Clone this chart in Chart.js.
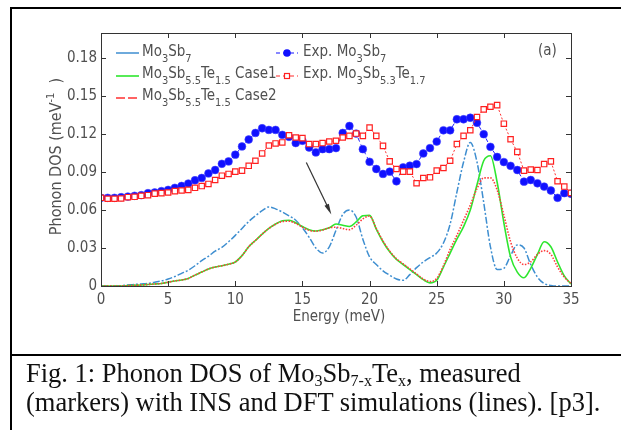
<!DOCTYPE html>
<html>
<head>
<meta charset="utf-8">
<script src="https://cdn.jsdelivr.net/npm/chart.js@4.4.1/dist/chart.umd.min.js"></script>
<style>
html, body { margin: 0; padding: 0; background: #fff; }
#wrap { position: relative; width: 621px; height: 430px; overflow: hidden; }
.rule { position: absolute; background: #000; }
#chart { position: absolute; left: 0; top: 0; }
#caption {
    position: absolute; left: 26px; top: 359px;
    font-family: 'Liberation Serif', 'Times New Roman', serif;
    font-size: 26.5px; line-height: 29px; color: #111; white-space: nowrap;
}
#caption sub { font-size: 16px; vertical-align: -4px; line-height: 0; }
</style>
</head>
<body>
<div id="wrap">
    <div class="rule" style="left:10px;top:7px;width:620px;height:2px"></div>
    <div class="rule" style="left:10px;top:7px;width:2px;height:430px"></div>
    <div class="rule" style="left:10px;top:354px;width:620px;height:2px"></div>
    <canvas id="chart" width="621" height="430"></canvas>
    <div id="caption">Fig. 1: Phonon DOS of Mo<sub>3</sub>Sb<sub>7-x</sub>Te<sub>x</sub>, measured<br>(markers) with INS and DFT simulations (lines). [p3].</div>
</div>
<script>
// energy grid (meV), 0.5 meV steps as in the measured data
const energy = [
    0, 0.5, 1, 1.5, 2, 2.5, 3, 3.5, 4, 4.5,
    5, 5.5, 6, 6.5, 7, 7.5, 8, 8.5, 9, 9.5,
    10, 10.5, 11, 11.5, 12, 12.5, 13, 13.5, 14, 14.5,
    15, 15.5, 16, 16.5, 17, 17.5, 18, 18.5, 19, 19.5,
    20, 20.5, 21, 21.5, 22, 22.5, 23, 23.5, 24, 24.5,
    25, 25.5, 26, 26.5, 27, 27.5, 28, 28.5, 29, 29.5,
    30, 30.5, 31, 31.5, 32, 32.5, 33, 33.5, 34, 34.5,
    35
];

// Exp. Mo3Sb7 (blue dots)
const expMo3Sb7 = [
    0.0697, 0.0697, 0.0697, 0.0702, 0.0707, 0.0713, 0.0718, 0.0734, 0.0739, 0.0750,
    0.0760, 0.0776, 0.0791, 0.0810, 0.0836, 0.0854, 0.0890, 0.0917, 0.0966, 0.0985,
    0.1038, 0.1103, 0.1158, 0.1210, 0.1247, 0.1234, 0.1234, 0.1195, 0.1179, 0.1130,
    0.1148, 0.1095, 0.1056, 0.1082, 0.1082, 0.1090, 0.1210, 0.1265, 0.1205, 0.1082,
    0.0982, 0.0925, 0.0886, 0.0904, 0.0828, 0.0938, 0.0951, 0.0964, 0.1048, 0.1090,
    0.1142, 0.1231, 0.1231, 0.1318, 0.1318, 0.1330, 0.1290, 0.1200, 0.1100, 0.1020,
    0.0980, 0.0950, 0.0917, 0.0825, 0.0838, 0.0812, 0.0786, 0.0755, 0.0697, 0.0734,
    0.0729
];

// Exp. Mo3Sb5.3Te1.7 (red squares)
const expMo3Sb53Te17 = [
    0.0697, 0.0690, 0.0690, 0.0692, 0.0702, 0.0705, 0.0713, 0.0718, 0.0730, 0.0734,
    0.0739, 0.0750, 0.0755, 0.0760, 0.0776, 0.0790, 0.0807, 0.0838, 0.0872, 0.0886,
    0.0904, 0.0912, 0.0950, 0.0990, 0.1048, 0.1110, 0.1127, 0.1135, 0.1192, 0.1174,
    0.1169, 0.1122, 0.1122, 0.1130, 0.1142, 0.1148, 0.1174, 0.1187, 0.1205, 0.1187,
    0.1252, 0.1187, 0.1108, 0.0985, 0.0925, 0.0904, 0.0904, 0.0812, 0.0854, 0.0859,
    0.0912, 0.0933, 0.0990, 0.1122, 0.1187, 0.1231, 0.1336, 0.1396, 0.1417, 0.1430,
    0.1283, 0.1160, 0.1060, 0.0912, 0.0920, 0.0917, 0.0964, 0.0985, 0.0828, 0.0786,
    0.0736
];

// DFT Mo3Sb7 (blue dash-dot)
const dftMo3Sb7 = [
    0, 0, 0, 0.0003, 0.0008, 0.0013, 0.0016, 0.0020, 0.0030, 0.0040,
    0.0055, 0.0075, 0.0100, 0.0125, 0.0160, 0.0200, 0.0235, 0.0275, 0.0305, 0.0350,
    0.0400, 0.0455, 0.0510, 0.0555, 0.0595, 0.0625, 0.0610, 0.0585, 0.0555, 0.0520,
    0.0460, 0.0385, 0.0300, 0.0260, 0.0310, 0.0440, 0.0565, 0.0600, 0.0545, 0.0370,
    0.0230, 0.0170, 0.0120, 0.0085, 0.0055, 0.0045, 0.0090, 0.0145, 0.0190, 0.0225,
    0.0260, 0.0340, 0.0490, 0.0740, 0.0980, 0.1135, 0.0980, 0.0660, 0.0310, 0.0130,
    0.0140, 0.0240, 0.0325, 0.0300, 0.0170, 0.0070, 0.0020, 0.0005, 0, 0,
    0
];

// DFT Mo3Sb5.5Te1.5 Case1 (green)
const dftCase1 = [
    0, 0, 0, 0, 0.0003, 0.0005, 0.0008, 0.0012, 0.0016, 0.0020,
    0.0030, 0.0040, 0.0047, 0.0060, 0.0086, 0.0110, 0.0135, 0.0150, 0.0160, 0.0172,
    0.0190, 0.0240, 0.0310, 0.0360, 0.0410, 0.0455, 0.0490, 0.0515, 0.0520, 0.0500,
    0.0470, 0.0445, 0.0435, 0.0445, 0.0460, 0.0490, 0.0480, 0.0470, 0.0506, 0.0555,
    0.0558, 0.0450, 0.0350, 0.0270, 0.0210, 0.0170, 0.0130, 0.0090, 0.0050, 0.0025,
    0.0045, 0.0150, 0.0260, 0.0370, 0.0470, 0.0600, 0.0800, 0.0990, 0.1030, 0.0820,
    0.0500, 0.0230, 0.0110, 0.0065, 0.0140, 0.0250, 0.0350, 0.0310, 0.0190, 0.0080,
    0.0015
];

// DFT Mo3Sb5.5Te1.5 Case2 (red dotted)
const dftCase2 = [
    0, 0, 0, 0, 0.0003, 0.0005, 0.0008, 0.0012, 0.0016, 0.0020,
    0.0030, 0.0040, 0.0047, 0.0060, 0.0086, 0.0110, 0.0135, 0.0150, 0.0160, 0.0172,
    0.0190, 0.0240, 0.0310, 0.0360, 0.0410, 0.0455, 0.0488, 0.0510, 0.0512, 0.0495,
    0.0465, 0.0440, 0.0433, 0.0443, 0.0460, 0.0465, 0.0455, 0.0445, 0.0480, 0.0530,
    0.0553, 0.0455, 0.0355, 0.0275, 0.0215, 0.0175, 0.0135, 0.0095, 0.0055, 0.0035,
    0.0060, 0.0160, 0.0290, 0.0400, 0.0520, 0.0640, 0.0770, 0.0855, 0.0855, 0.0760,
    0.0560, 0.0350, 0.0220, 0.0170, 0.0190, 0.0250, 0.0280, 0.0250, 0.0150, 0.0070,
    0.0020
];

const xTickValues = [0, 5, 10, 15, 20, 25, 30, 35];
const yTickValues = [0, 0.03, 0.06, 0.09, 0.12, 0.15, 0.18];

// arrow annotation: [energy, DOS] start and tip
const arrowFrom = [15.29, 0.0977];
const arrowTo = [17.15, 0.0566];

const FONT = "'Liberation Sans Narrow', 'DejaVu Sans Condensed', 'Liberation Sans', sans-serif";
const TEXT = '#505050';
const SIZE = 15;

const pts = ys => ys.map((y, i) => ({ x: energy[i], y }));

function drawRich(ctx, x, y, parts) {
    parts.forEach(([t, sub]) => {
        ctx.font = sub ? `11px ${FONT}` : `${SIZE}px ${FONT}`;
        ctx.fillText(t, x, sub ? y + 6 : y);
        x += ctx.measureText(t).width;
    });
}

function seg(ctx, x1, x2, y, color, width, dash) {
    ctx.save();
    ctx.strokeStyle = color;
    ctx.lineWidth = width;
    ctx.setLineDash(dash);
    ctx.beginPath();
    ctx.moveTo(x1, y);
    ctx.lineTo(x2, y);
    ctx.stroke();
    ctx.restore();
}

const decor = {
    id: 'decor',
    afterDraw(chart) {
        const { ctx, chartArea: a, scales: { x, y } } = chart;
        ctx.save();

        // frame and inward ticks on all sides
        ctx.strokeStyle = '#333';
        ctx.lineWidth = 1;
        ctx.strokeRect(a.left + 0.5, a.top + 0.5, a.right - a.left, a.bottom - a.top);
        ctx.beginPath();
        xTickValues.forEach(v => {
            const px = Math.round(x.getPixelForValue(v)) + 0.5;
            ctx.moveTo(px, a.bottom); ctx.lineTo(px, a.bottom - 5);
            ctx.moveTo(px, a.top); ctx.lineTo(px, a.top + 5);
        });
        yTickValues.forEach(v => {
            const py = Math.round(y.getPixelForValue(v)) + 0.5;
            ctx.moveTo(a.left, py); ctx.lineTo(a.left + 5, py);
            ctx.moveTo(a.right, py); ctx.lineTo(a.right - 5, py);
        });
        ctx.stroke();

        // axis titles
        ctx.fillStyle = TEXT;
        ctx.textBaseline = 'alphabetic';
        ctx.font = `${SIZE}px ${FONT}`;
        ctx.textAlign = 'center';
        ctx.fillText('Energy (meV)', (a.left + a.right) / 2 + 3, 321);

        ctx.save();
        ctx.translate(61, (a.top + a.bottom) / 2 - 3);
        ctx.rotate(-Math.PI / 2);
        ctx.textAlign = 'left';
        const yParts = [['Phonon DOS (meV', 0], ['-1', 1], ['  )', 0]];
        let w = 0;
        yParts.forEach(([t, s]) => { ctx.font = s ? `11px ${FONT}` : `16px ${FONT}`; w += ctx.measureText(t).width; });
        let cx = -w / 2;
        yParts.forEach(([t, s]) => {
            ctx.font = s ? `11px ${FONT}` : `16px ${FONT}`;
            ctx.fillText(t, cx, s ? -7 : 0);
            cx += ctx.measureText(t).width;
        });
        ctx.restore();

        // panel label
        ctx.textAlign = 'left';
        ctx.font = `${SIZE}px ${FONT}`;
        ctx.fillText('(a)', 538, 55);

        // legend
        const rows = [53, 76, 98];
        seg(ctx, 116, 139, rows[0], '#3e8ed0', 1.5, []);
        seg(ctx, 116, 139, rows[1], '#2ee62e', 1.6, []);
        seg(ctx, 116, 139, rows[2], '#ff3030', 1.6, [9, 3]);
        ctx.fillStyle = TEXT;
        drawRich(ctx, 142, rows[0] + 3, [['Mo', 0], ['3', 1], ['Sb', 0], ['7', 1]]);
        drawRich(ctx, 142, rows[1] + 2, [['Mo', 0], ['3', 1], ['Sb', 0], ['5.5', 1], ['Te', 0], ['1.5', 1], [' Case1', 0]]);
        drawRich(ctx, 142, rows[2] + 2, [['Mo', 0], ['3', 1], ['Sb', 0], ['5.5', 1], ['Te', 0], ['1.5', 1], [' Case2', 0]]);

        seg(ctx, 276, 298, rows[0], '#1010ff', 1, [4, 3]);
        ctx.fillStyle = '#1010ff';
        ctx.beginPath(); ctx.arc(287, rows[0], 3.8, 0, Math.PI * 2); ctx.fill();
        seg(ctx, 276, 298, rows[1], '#ff2a2a', 1, [4, 3]);
        ctx.fillStyle = '#fff';
        ctx.strokeStyle = '#ff2020';
        ctx.lineWidth = 1.2;
        ctx.fillRect(284.5, rows[1] - 2.5, 5, 5);
        ctx.strokeRect(284.5, rows[1] - 2.5, 5, 5);
        ctx.fillStyle = TEXT;
        drawRich(ctx, 303, rows[0] + 3, [['Exp. Mo', 0], ['3', 1], ['Sb', 0], ['7', 1]]);
        drawRich(ctx, 303, rows[1] + 2, [['Exp. Mo', 0], ['3', 1], ['Sb', 0], ['5.3', 1], ['Te', 0], ['1.7', 1]]);

        // arrow
        const x1 = x.getPixelForValue(arrowFrom[0]), y1 = y.getPixelForValue(arrowFrom[1]);
        const x2 = x.getPixelForValue(arrowTo[0]), y2 = y.getPixelForValue(arrowTo[1]);
        const ang = Math.atan2(y2 - y1, x2 - x1);
        ctx.strokeStyle = '#333';
        ctx.fillStyle = '#333';
        ctx.lineWidth = 1.2;
        ctx.beginPath();
        ctx.moveTo(x1, y1);
        ctx.lineTo(x2 - 9 * Math.cos(ang), y2 - 9 * Math.sin(ang));
        ctx.stroke();
        ctx.beginPath();
        ctx.moveTo(x2, y2);
        ctx.lineTo(x2 - 11 * Math.cos(ang - 0.22), y2 - 11 * Math.sin(ang - 0.22));
        ctx.lineTo(x2 - 11 * Math.cos(ang + 0.22), y2 - 11 * Math.sin(ang + 0.22));
        ctx.closePath();
        ctx.fill();

        ctx.restore();
    }
};

new Chart(document.getElementById('chart'), {
    type: 'line',
    data: {
        datasets: [
            {
                label: 'Exp. Mo3Sb5.3Te1.7',
                data: pts(expMo3Sb53Te17),
                borderColor: '#ff3030',
                borderWidth: 1,
                borderDash: [2, 2],
                pointStyle: 'rect',
                pointRadius: 3.8,
                pointBorderWidth: 1.2,
                pointBorderColor: '#ff2020',
                pointBackgroundColor: '#fff',
                tension: 0,
                order: 1
            },
            {
                label: 'Exp. Mo3Sb7',
                data: pts(expMo3Sb7),
                borderColor: '#2020ff',
                borderWidth: 1,
                borderDash: [4, 3],
                pointStyle: 'circle',
                pointRadius: 3.9,
                pointBorderWidth: 1,
                pointBorderColor: 'rgba(70,70,255,0.55)',
                pointBackgroundColor: '#1010ff',
                tension: 0,
                order: 2
            },
            {
                label: 'Mo3Sb5.5Te1.5 Case2',
                data: pts(dftCase2),
                borderColor: '#ff3b3b',
                borderWidth: 1.6,
                borderDash: [1.5, 1.5],
                pointRadius: 0,
                cubicInterpolationMode: 'monotone',
                order: 3
            },
            {
                label: 'Mo3Sb5.5Te1.5 Case1',
                data: pts(dftCase1),
                borderColor: '#2ee62e',
                borderWidth: 1.6,
                pointRadius: 0,
                cubicInterpolationMode: 'monotone',
                order: 4
            },
            {
                label: 'Mo3Sb7',
                data: pts(dftMo3Sb7),
                borderColor: '#3e8ed0',
                borderWidth: 1.5,
                borderDash: [7, 2, 2, 2],
                pointRadius: 0,
                cubicInterpolationMode: 'monotone',
                order: 5
            }
        ]
    },
    options: {
        responsive: false,
        animation: false,
        devicePixelRatio: 1,
        layout: { padding: { left: 0, right: 50, top: 33, bottom: 94 } },
        plugins: { legend: { display: false }, tooltip: { enabled: false } },
        scales: {
            x: {
                type: 'linear',
                min: 0,
                max: 35,
                afterBuildTicks: axis => { axis.ticks = xTickValues.map(v => ({ value: v })); },
                afterFit: axis => { axis.height = 50; },
                grid: { display: false, drawTicks: false },
                border: { display: false },
                ticks: { color: TEXT, font: { family: FONT, size: SIZE }, padding: 5, maxRotation: 0 }
            },
            y: {
                min: 0,
                max: 0.2,
                afterBuildTicks: axis => { axis.ticks = yTickValues.map(v => ({ value: v })); },
                afterFit: axis => { axis.width = 101; },
                grid: { display: false, drawTicks: false },
                border: { display: false },
                ticks: {
                    color: TEXT,
                    font: { family: FONT, size: SIZE },
                    padding: 4,
                    callback: v => (v === 0 ? '0' : v.toFixed(2))
                }
            }
        }
    },
    plugins: [decor]
});
</script>
</body>
</html>
